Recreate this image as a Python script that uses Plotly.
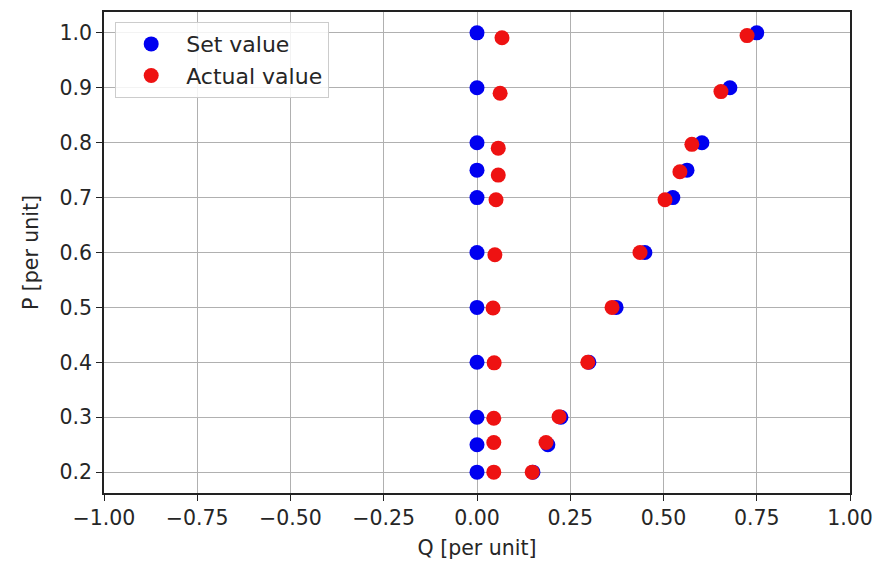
import plotly.graph_objects as go

# Data
p_values = [1.0, 0.9, 0.8, 0.75, 0.7, 0.6, 0.5, 0.4, 0.3, 0.25, 0.2]

set_q_zero = [0.0, 0.0, 0.0, 0.0, 0.0, 0.0, 0.0, 0.0, 0.0, 0.0, 0.0]
set_q_pos = [0.75, 0.678, 0.603, 0.563, 0.525, 0.45, 0.373, 0.30, 0.225, 0.19, 0.15]

act_q_zero = [0.067, 0.062, 0.057, 0.057, 0.051, 0.048, 0.043, 0.046, 0.045, 0.045, 0.045]
act_p_zero = [0.991, 0.890, 0.790, 0.741, 0.696, 0.596, 0.499, 0.399, 0.298, 0.254, 0.200]
act_q_pos = [0.724, 0.654, 0.576, 0.544, 0.504, 0.437, 0.362, 0.297, 0.220, 0.185, 0.148]
act_p_pos = [0.995, 0.893, 0.797, 0.747, 0.696, 0.600, 0.500, 0.400, 0.301, 0.254, 0.200]

x_ticks = [-1.0, -0.75, -0.5, -0.25, 0.0, 0.25, 0.5, 0.75, 1.0]
x_tick_labels = ["\u22121.00", "\u22120.75", "\u22120.50", "\u22120.25", "0.00", "0.25", "0.50", "0.75", "1.00"]
y_ticks = [0.2, 0.3, 0.4, 0.5, 0.6, 0.7, 0.8, 0.9, 1.0]
y_tick_labels = ["0.2", "0.3", "0.4", "0.5", "0.6", "0.7", "0.8", "0.9", "1.0"]

FONT = "DejaVu Sans"
FS = 20.5
TXT = "#262626"
BLUE = "#0000f0"
RED = "#ee1212"
MSIZE = 15

fig = go.Figure()
fig.add_trace(go.Scatter(
    x=set_q_zero + set_q_pos, y=p_values + p_values, mode="markers",
    marker=dict(color=BLUE, size=MSIZE), name="Set value"))
fig.add_trace(go.Scatter(
    x=act_q_zero + act_q_pos, y=act_p_zero + act_p_pos, mode="markers",
    marker=dict(color=RED, size=MSIZE), name="Actual value"))

axis_common = dict(
    showgrid=True, gridcolor="#b0b0b0", gridwidth=1,
    showline=True, linecolor="#222222", linewidth=1.6, mirror=True,
    ticks="outside", ticklen=6, tickcolor="#222222", zeroline=False,
    tickfont=dict(family=FONT, size=FS, color=TXT),
)

fig.update_layout(
    width=876, height=555,
    margin=dict(l=96, r=34, t=2, b=70),
    paper_bgcolor="white", plot_bgcolor="white",
    font=dict(family=FONT, size=FS, color=TXT),
    xaxis=dict(range=[-1.0, 1.0], tickvals=x_ticks, ticktext=x_tick_labels,
               title=dict(text="Q [per unit]", font=dict(family=FONT, size=FS, color=TXT), standoff=11),
               **axis_common),
    yaxis=dict(range=[0.162, 1.038], tickvals=y_ticks, ticktext=y_tick_labels,
               title=dict(text="P [per unit]", font=dict(family=FONT, size=FS, color=TXT), standoff=15),
               **axis_common),
    legend=dict(x=0.015, y=0.979, xanchor="left", yanchor="top",
                bgcolor="rgba(255,255,255,0.85)", bordercolor="#cccccc", borderwidth=1,
                itemwidth=60,
                font=dict(family=FONT, size=22, color=TXT)),
    showlegend=True,
)

fig.write_html("out.html")
